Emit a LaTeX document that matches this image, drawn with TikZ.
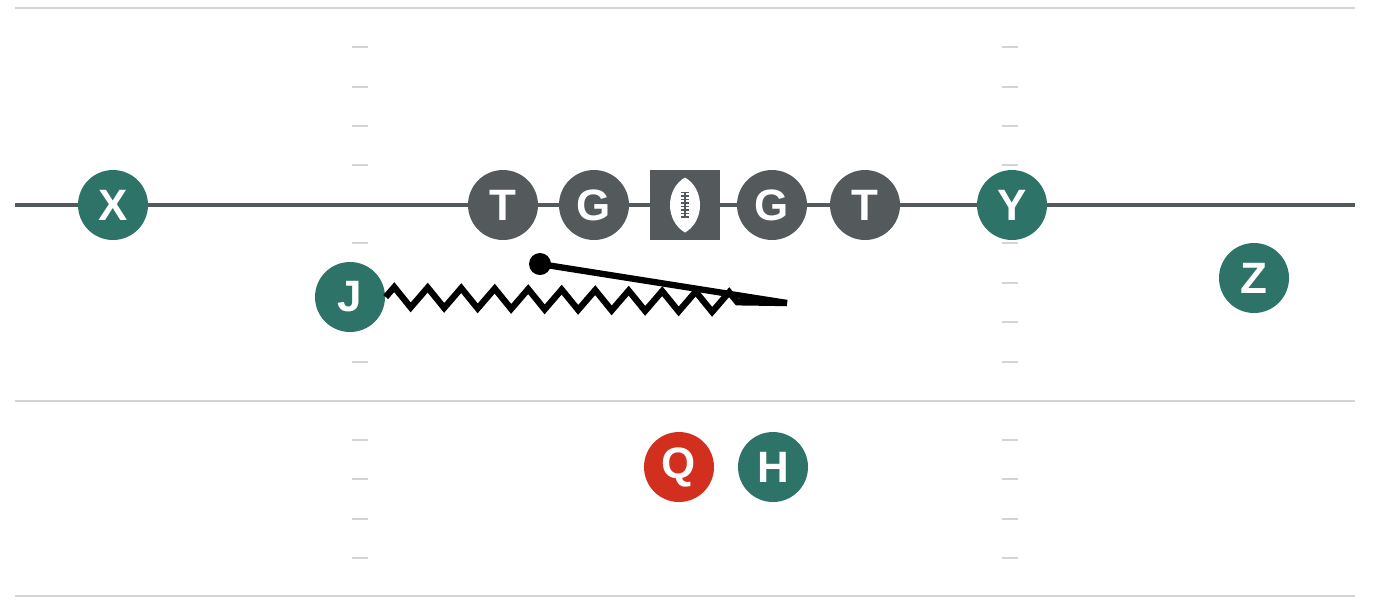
\documentclass[tikz,border=0pt]{standalone}
\usepackage{fontspec}
\setsansfont{Liberation Sans}
\usetikzlibrary{positioning}
\usetikzlibrary{decorations.pathmorphing}
\definecolor{teamgreen}{HTML}{2E7367}
\definecolor{linegray}{HTML}{545A5B}
\definecolor{qbred}{HTML}{D32F1F}
\definecolor{fieldgray}{HTML}{D4D4D4}
\tikzset{player/.style = {circle, fill = teamgreen, text = white, minimum size = 7mm,
                          inner sep = 0, font = \sffamily\bfseries\fontsize{12.5}{12.5}\selectfont}}
\tikzset{lineman/.style = {player, fill = linegray}}
\tikzset{qb/.style = {player, fill = qbred}}
\tikzset{hash/.style = {fieldgray, line width = 0.7pt}}
\tikzset{route/.style = {line width = 1.8pt, black}}

\begin{document}
\begin{tikzpicture}
      \useasboundingbox (0, 0) rectangle (13.98, 6.02);

      % field lines
      \draw [fieldgray, line width = 0.7pt] (0.15, 5.94) -- (13.55, 5.94);
      \draw [fieldgray, line width = 0.7pt] (0.15, 2.01) -- (13.55, 2.01);
      \draw [fieldgray, line width = 0.7pt] (0.15, 0.06) -- (13.55, 0.06);
      \foreach \y in {5.55, 5.15, 4.76, 4.37, 3.59, 3.19, 2.80, 2.40, 1.62, 1.23, 0.83, 0.44} {
        \draw [hash] (3.52, \y) -- (3.68, \y);
        \draw [hash] (10.02, \y) -- (10.18, \y);
      }

      % line of scrimmage
      \coordinate (losL) at (0.15, 3.97);
      \coordinate (losR) at (13.55, 3.97);
      \draw [linegray, line width = 1.4pt] (losL) -- (losR);

      \node [player] (X) at (1.13, 3.97) {X};
      \node [lineman] (T1) at (5.03, 3.97) {T};
      \node [lineman] (G1) at (5.94, 3.97) {G};
      \node [rectangle, fill = linegray, minimum size = 7mm, inner sep = 0] (C) at (6.85, 3.97) {};
      \node [lineman] (G2) at (7.72, 3.97) {G};
      \node [lineman] (T2) at (8.65, 3.97) {T};
      \node [player] (Y) at (10.12, 3.97) {Y};
      \node [player] (Z) at (12.54, 3.24) {Z};
      \node [player] (J) at (3.50, 3.05) {J};
      \node [qb] (Q) at (6.79, 1.35) {Q};
      \node [player] (H) at (7.73, 1.35) {H};

      % ball
      \fill [white, shift = {(C.center)}] (0, 0.275) .. controls (0.2, 0.16) and (0.2, -0.16) .. (0, -0.275)
            .. controls (-0.2, -0.16) and (-0.2, 0.16) .. (0, 0.275);
      \draw [linegray, line width = 0.6pt] ([yshift = -1.3mm] C.center) -- ([yshift = 1.3mm] C.center);
      \foreach \d in {-1.2, -0.85, -0.5, -0.15, 0.2, 0.55, 0.9, 1.25}
        \draw [linegray, line width = 0.45pt] ([xshift = -0.4mm, yshift = \d mm] C.center) -- ([xshift = 0.4mm, yshift = \d mm] C.center);

      % motion and pitch
      \coordinate (jend) at (7.87, 2.99);
      \node [circle, fill = black, minimum size = 2.2mm, inner sep = 0] (dot) at (5.40, 3.38) {};
      \draw [route, decoration = {zigzag, segment length = 3.35mm, amplitude = 1.0mm, post length = 4mm},
             decorate] (J.east) -- (jend);
      \draw [route] (dot.center) -- (jend);
\end{tikzpicture}
\end{document}
